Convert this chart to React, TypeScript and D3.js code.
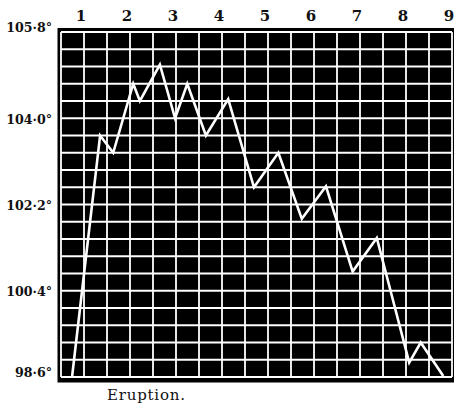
import React from "react";
import * as d3 from "d3";

const dayLabels = ["1", "2", "3", "4", "5", "6", "7", "8", "9"];
const tempTicks = [98.6, 100.4, 102.2, 104.0, 105.8];
const tempTickLabels = ["98·6°", "100·4°", "102·2°", "104·0°", "105·8°"];
// reading times in half-day grid columns
const readingTimes = [0.48, 1.7, 2.27, 3.14, 3.43, 4.3, 4.96, 5.49, 6.3, 7.27, 8.39, 9.45, 10.47, 11.52, 12.68, 13.73, 15.14, 15.64, 16.62];
const readingTemps = [98.6, 103.64, 103.28, 104.72, 104.36, 105.12, 104.0, 104.72, 103.64, 104.4, 102.56, 103.28, 101.9, 102.58, 100.8, 101.5, 98.9, 99.32, 98.62];
const caption = "Eruption.";

const W = 455;
const H = 406;

export default function App() {
  const x = d3.scaleLinear().domain([0, 17]).range([61, 452]);
  const y = d3.scaleLinear().domain([98.6, 105.8]).range([377, 32]);
  const dayX = d3.scaleLinear().domain([1, 9]).range([81, 449]);

  const vLines = d3.range(0, 18);
  const hLines = d3.range(0, 21).map((k) => 98.6 + k * 0.36);

  const pts: [number, number][] = readingTimes.map((t, i) => [t, readingTemps[i]]);
  const line = d3
    .line<[number, number]>()
    .x((d) => x(d[0]))
    .y((d) => y(d[1]));

  const serif = "'DejaVu Serif', 'Liberation Serif', serif";

  return (
    <svg
      width={W}
      height={H}
      viewBox={`0 0 ${W} ${H}`}
      style={{ position: "absolute", left: 0, top: 0, background: "#fff" }}
    >
      <rect x={0} y={0} width={W} height={H} fill="#fff" />
      {/* plot background with dark border */}
      <rect x={57.5} y={28} width={396.5} height={354.5} fill="#000" />
      {/* grid */}
      {vLines.map((c) => (
        <line
          key={"v" + c}
          x1={x(c)}
          x2={x(c)}
          y1={y(105.8)}
          y2={y(98.6)}
          stroke="#fff"
          strokeWidth={1.8}
        />
      ))}
      {hLines.map((t, i) => (
        <line
          key={"h" + i}
          x1={x(0)}
          x2={x(17)}
          y1={y(t)}
          y2={y(t)}
          stroke="#fff"
          strokeWidth={1.8}
        />
      ))}
      {/* temperature curve */}
      <path
        d={line(pts) || ""}
        fill="none"
        stroke="#fff"
        strokeWidth={2.6}
        strokeLinejoin="miter"
      />
      {/* y labels */}
      {tempTicks.map((t, i) => {
        const off = i === 0 || i === tempTicks.length - 1 ? -4 : 2;
        return (
          <text
            key={"yl" + i}
            x={52}
            y={y(t) + off}
            textAnchor="end"
            dominantBaseline="middle"
            fontFamily={serif}
            fontWeight="bold"
            fontSize={12.6}
            fill="#111"
          >
            {tempTickLabels[i]}
          </text>
        );
      })}
      {/* day labels */}
      {dayLabels.map((d, i) => (
        <text
          key={"d" + i}
          x={dayX(i + 1)}
          y={21}
          textAnchor="middle"
          fontFamily={serif}
          fontWeight="bold"
          fontSize={15}
          fill="#111"
        >
          {d}
        </text>
      ))}
      <text
        x={107}
        y={400}
        fontFamily={serif}
        fontSize={15}
        textLength={78}
        lengthAdjust="spacing"
        fill="#111"
      >
        {caption}
      </text>
    </svg>
  );
}
